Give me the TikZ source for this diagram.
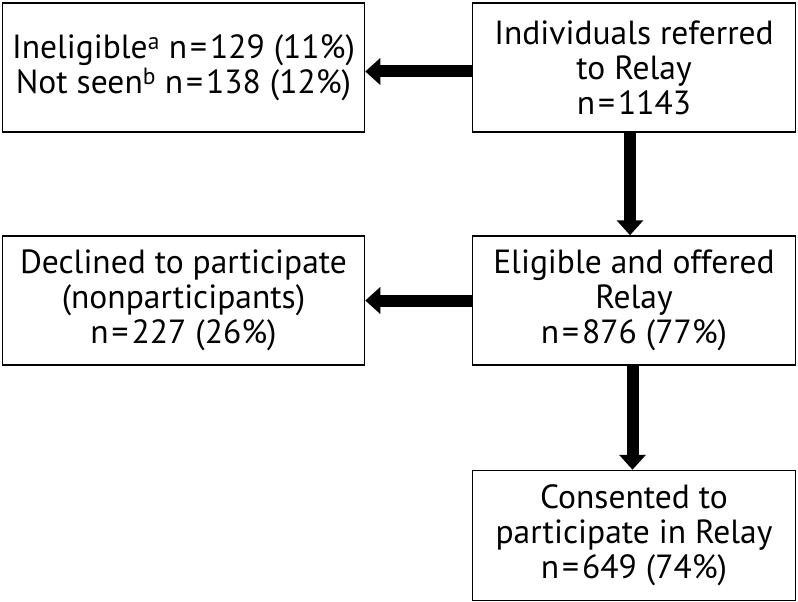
\documentclass[tikz,border=0pt]{standalone}
\usepackage{fontspec}
\setmainfont{PT Sans}
\usetikzlibrary{arrows.meta}
\newcommand{\eqn}{\kern3pt=\kern3pt}
\begin{document}
\begin{tikzpicture}[x=1pt,y=-1pt,
  box/.style={draw,line width=1.5pt,align=center,inner sep=0pt,
    font=\fontsize{33.5}{35}\selectfont},
  flow/.style={line width=12pt,-{Triangle[width=26pt,length=15pt]},shorten >=0pt}]
\useasboundingbox (0,0) rectangle (798,602);
\node[box,minimum width=362pt,minimum height=129pt] (tl) at (183.5,67.5)
  {Ineligible\textsuperscript{a} n\eqn129 (11\%)\\Not seen\textsuperscript{b} n\eqn138 (12\%)};
\node[box,minimum width=323pt,minimum height=129pt] (tr) at (634,67.5)
  {Individuals referred\\to Relay\\n\eqn1143};
\node[box,minimum width=362pt,minimum height=129pt] (ml) at (183.5,300.5)
  {Declined to participate\\(nonparticipants)\\n\eqn227 (26\%)};
\node[box,minimum width=323pt,minimum height=129pt] (mr) at (634,300.5)
  {Eligible and offered\\Relay\\n\eqn876 (77\%)};
\node[box,minimum width=323pt,minimum height=130pt] (br) at (634,535.5)
  {Consented to\\participate in Relay\\n\eqn649 (74\%)};
\draw[flow] ([yshift=-4pt]tr.west) -- ([yshift=-4pt]tl.east);
\draw[flow] (mr.west) -- (ml.east);
\draw[flow] ([xshift=-4pt]tr.south) -- ([xshift=-4pt]mr.north);
\draw[flow] ([xshift=-1.5pt]mr.south) -- ([xshift=-1.5pt]br.north);
\end{tikzpicture}
\end{document}
